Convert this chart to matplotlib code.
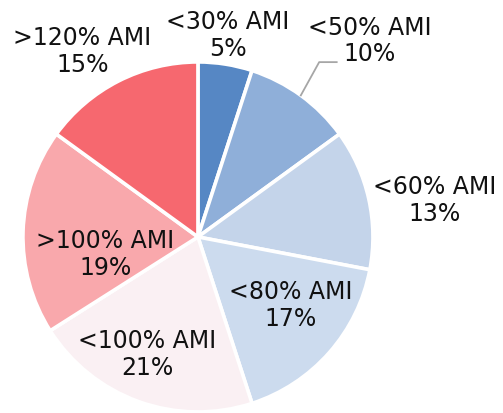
"""
AMI share pie chart.
"""

import numpy as np
import matplotlib.pyplot as plt

labels = ["<30% AMI", "<50% AMI", "<60% AMI", "<80% AMI", "<100% AMI", ">100% AMI", ">120% AMI"]
shares = [5, 10, 13, 17, 21, 19, 15]
colors = ["#5687C4", "#8FAFD9", "#C4D4EA", "#CCDBEE", "#FAF0F3", "#F9A8AC", "#F6686F"]

# label centres in pie units (radius = 1)
label_pos = [(0.17, 1.15), (0.98, 1.12), (1.35, 0.21), (0.53, -0.39),
             (-0.29, -0.67), (-0.53, -0.10), (-0.66, 1.06)]

fig = plt.figure(figsize=(5.03, 4.13), dpi=100)
ax = fig.add_axes([0, 0, 1, 1])
ax.pie(
    shares,
    colors=colors,
    startangle=90,
    counterclock=False,
    radius=1,
    wedgeprops={"edgecolor": "white", "linewidth": 2.6},
)
ax.set_xlim(-1.131, 1.743)
ax.set_ylim(-1.006, 1.354)
ax.set_aspect("equal")
ax.axis("off")

for lab, val, (x, y) in zip(labels, shares, label_pos):
    ax.text(x, y, f"{lab}\n{val}%", ha="center", va="center",
            fontsize=17, linespacing=1.15, color="#111111")

# leader line for the <50% slice
mid = np.deg2rad(90 - 360 * (shares[0] + shares[1] / 2) / sum(shares))
x0, y0 = np.cos(mid), np.sin(mid)
ax.plot([x0, x0 + 0.105, x0 + 0.205], [y0, y0 + 0.19, y0 + 0.19],
        color="#A6A6A6", lw=1.3)

plt.savefig("out.png", dpi=100)
plt.close()
